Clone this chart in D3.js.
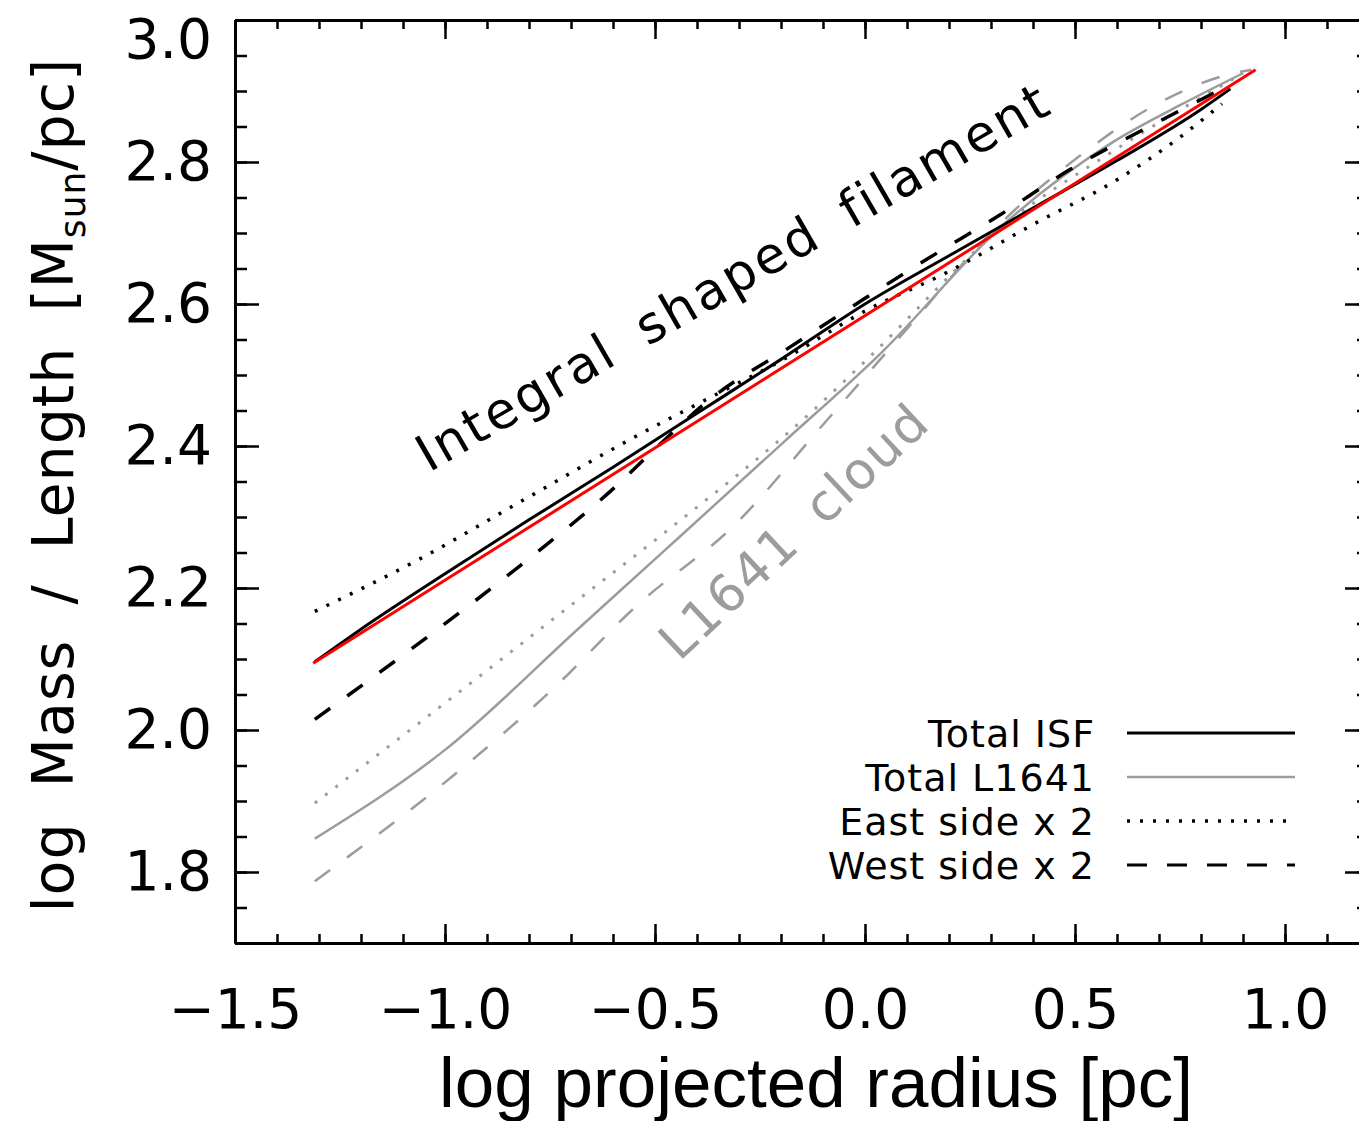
<!DOCTYPE html>
<html>
<head>
<meta charset="utf-8">
<script src="https://cdn.jsdelivr.net/npm/d3@7"></script>
<style>
  body { margin: 0; background: #fff; }
  svg { display: block; }
</style>
</head>
<body>
<svg id="chart"></svg>
<script>
//data
const fitX = [-1.314, 0.93];
const fitY = [2.094, 2.93];

const isfTotalX = [-1.31, -1.2, -1.0, -0.8, -0.6, -0.4, -0.2, 0.0, 0.2, 0.4, 0.6, 0.8, 0.87];
const isfTotalY = [2.096, 2.142, 2.220, 2.296, 2.370, 2.446, 2.522, 2.600, 2.668, 2.735, 2.802, 2.874, 2.903];

const isfEastX = [-1.31, -1.06, -0.81, -0.56, -0.35, -0.2, 0.0, 0.2, 0.4, 0.6, 0.75, 0.85];
const isfEastY = [2.167, 2.241, 2.325, 2.409, 2.474, 2.52, 2.59, 2.646, 2.712, 2.775, 2.835, 2.882];

const isfWestX = [-1.31, -1.06, -0.82, -0.59, -0.5, -0.36, -0.19, 0.0, 0.15, 0.32, 0.49, 0.69, 0.85];
const isfWestY = [2.015, 2.123, 2.232, 2.345, 2.396, 2.470, 2.535, 2.608, 2.664, 2.725, 2.790, 2.854, 2.903];

const l1641TotalX = [-1.31, -1.0, -0.68, -0.49, -0.2, 0.04, 0.33, 0.59, 0.75, 0.9];
const l1641TotalY = [1.847, 1.972, 2.144, 2.246, 2.402, 2.532, 2.712, 2.828, 2.88, 2.925];

const l1641EastX = [-1.31, -1.0, -0.68, -0.49, -0.12, 0.01, 0.33, 0.59, 0.9];
const l1641EastY = [1.897, 2.038, 2.185, 2.272, 2.452, 2.525, 2.71, 2.815, 2.925];

const l1641WestX = [-1.31, -0.98, -0.75, -0.54, -0.31, -0.1, 0.1, 0.3, 0.53, 0.69, 0.87, 0.92];
const l1641WestY = [1.787, 1.936, 2.054, 2.177, 2.289, 2.43, 2.565, 2.70, 2.817, 2.880, 2.924, 2.93];

const xMajor = [-1.5, -1.0, -0.5, 0.0, 0.5, 1.0];
const yMajor = [1.8, 2.0, 2.2, 2.4, 2.6, 2.8, 3.0];
const legendLabels = ["Total ISF", "Total L1641", "East side x 2", "West side x 2"];

//constants
const W = 1359, H = 1121;
const plot = {left: 235, right: 1369, top: 20, bottom: 943};
const tickFont = "'DejaVu Sans', sans-serif";
const grey = "#9c9c9c";

const svg = d3.select("#chart")
    .attr("width", W)
    .attr("height", H)
    .style("background-color", "#fff");

//scales
const x = d3.scaleLinear().domain([-1.5, 1.2]).range([plot.left, plot.right]);
const y = d3.scaleLinear().domain([1.7, 3.0]).range([plot.bottom, plot.top]);

const xMinor = d3.range(-1.5, 1.21, 0.1).map(v => +v.toFixed(2));
const yMinor = d3.range(1.7, 3.001, 0.05).map(v => +v.toFixed(2));

function styleAxis(g) {
    g.select(".domain").attr("stroke", "#000").attr("stroke-width", 3);
    g.selectAll(".tick line").attr("stroke", "#000").attr("stroke-width", 2.5);
    g.selectAll(".tick text")
        .attr("fill", "#000")
        .style("font-family", tickFont)
        .style("font-size", "55px");
}

//minor ticks
svg.append("g")
    .attr("transform", "translate(0," + plot.bottom + ")")
    .call(d3.axisBottom(x).tickValues(xMinor).tickSize(-9).tickSizeOuter(0).tickFormat(""))
    .call(styleAxis);
svg.append("g")
    .attr("transform", "translate(0," + plot.top + ")")
    .call(d3.axisTop(x).tickValues(xMinor).tickSize(-9).tickSizeOuter(0).tickFormat(""))
    .call(styleAxis);
svg.append("g")
    .attr("transform", "translate(" + plot.left + ",0)")
    .call(d3.axisLeft(y).tickValues(yMinor).tickSize(-12).tickSizeOuter(0).tickFormat(""))
    .call(styleAxis);
svg.append("g")
    .attr("transform", "translate(" + plot.right + ",0)")
    .call(d3.axisRight(y).tickValues(yMinor).tickSize(-12).tickSizeOuter(0).tickFormat(""))
    .call(styleAxis);

//major ticks + labels
svg.append("g")
    .attr("transform", "translate(0," + plot.bottom + ")")
    .call(d3.axisBottom(x).tickValues(xMajor).tickSize(-19).tickSizeOuter(0)
        .tickPadding(46).tickFormat(d3.format(".1f")))
    .call(styleAxis);
svg.append("g")
    .attr("transform", "translate(0," + plot.top + ")")
    .call(d3.axisTop(x).tickValues(xMajor).tickSize(-19).tickSizeOuter(0).tickFormat(""))
    .call(styleAxis);
const yAxisG = svg.append("g")
    .attr("transform", "translate(" + plot.left + ",0)")
    .call(d3.axisLeft(y).tickValues(yMajor).tickSize(-24).tickSizeOuter(0)
        .tickPadding(23).tickFormat(d3.format(".1f")))
    .call(styleAxis);
// top label sits just below the frame line
yAxisG.selectAll(".tick text").filter(d => d === 3.0).attr("dy", "0.68em");
svg.append("g")
    .attr("transform", "translate(" + plot.right + ",0)")
    .call(d3.axisRight(y).tickValues(yMajor).tickSize(-24).tickSizeOuter(0).tickFormat(""))
    .call(styleAxis);

//axis titles
svg.append("text")
    .attr("x", 816)
    .attr("y", 1107)
    .style("text-anchor", "middle")
    .style("font-family", "'Liberation Sans', Arial, sans-serif")
    .style("font-size", "71px")
    .style("font-weight", 300)
    .text("log projected radius [pc]");

const yTitle = svg.append("text")
    .attr("transform", "translate(73,485) rotate(-90)")
    .style("text-anchor", "middle")
    .style("font-family", tickFont)
    .style("font-size", "57px")
    .style("letter-spacing", "1px")
    .style("word-spacing", "16px");
yTitle.append("tspan").text("log Mass / Length [M");
yTitle.append("tspan").attr("dy", 12).style("font-size", "36px").text("sun");
yTitle.append("tspan").attr("dy", -12).text("/pc]");

//lines
const line = d3.line()
    .x(d => x(d[0]))
    .y(d => y(d[1]))
    .curve(d3.curveMonotoneX);

const series = [
    {xs: l1641WestX, ys: l1641WestY, color: grey, width: 2.5, dash: "19,21"},
    {xs: l1641EastX, ys: l1641EastY, color: grey, width: 3, dash: "3,10"},
    {xs: l1641TotalX, ys: l1641TotalY, color: grey, width: 2.5, dash: null},
    {xs: isfWestX, ys: isfWestY, color: "#000", width: 3.5, dash: "19,21"},
    {xs: isfEastX, ys: isfEastY, color: "#000", width: 3.5, dash: "3,10"},
    {xs: isfTotalX, ys: isfTotalY, color: "#000", width: 3, dash: null},
    {xs: fitX, ys: fitY, color: "#ff0000", width: 3, dash: null}
];

series.forEach(s => {
    svg.append("path")
        .datum(s.xs.map((v, i) => [v, s.ys[i]]))
        .attr("fill", "none")
        .attr("stroke", s.color)
        .attr("stroke-width", s.width)
        .attr("stroke-dasharray", s.dash)
        .attr("d", line);
});

//annotations
svg.append("text")
    .attr("transform", "translate(742,292) rotate(-30)")
    .style("text-anchor", "middle")
    .style("font-family", tickFont)
    .style("font-size", "51px")
    .style("letter-spacing", "3px")
    .style("word-spacing", "12px")
    .text("Integral shaped filament");

svg.append("text")
    .attr("transform", "translate(806,544) rotate(-43)")
    .style("text-anchor", "middle")
    .style("font-family", tickFont)
    .style("font-size", "51px")
    .style("letter-spacing", "2px")
    .style("word-spacing", "12px")
    .attr("fill", grey)
    .text("L1641 cloud");

//legend
const legendStyles = [
    {color: "#000", width: 3, dash: null},
    {color: grey, width: 2.5, dash: null},
    {color: "#000", width: 3.5, dash: "3,10"},
    {color: "#000", width: 3, dash: "20,20"}
];
const legendY = d3.scalePoint().domain(legendLabels).range([733, 865]);

legendLabels.forEach((lab, i) => {
    svg.append("text")
        .attr("x", 1095)
        .attr("y", legendY(lab) + 14)
        .style("text-anchor", "end")
        .style("font-family", tickFont)
        .style("font-size", "38px")
        .style("letter-spacing", "1px")
        .text(lab);
    svg.append("line")
        .attr("x1", 1127).attr("x2", 1295)
        .attr("y1", legendY(lab)).attr("y2", legendY(lab))
        .attr("stroke", legendStyles[i].color)
        .attr("stroke-width", legendStyles[i].width)
        .attr("stroke-dasharray", legendStyles[i].dash);
});
</script>
</body>
</html>
